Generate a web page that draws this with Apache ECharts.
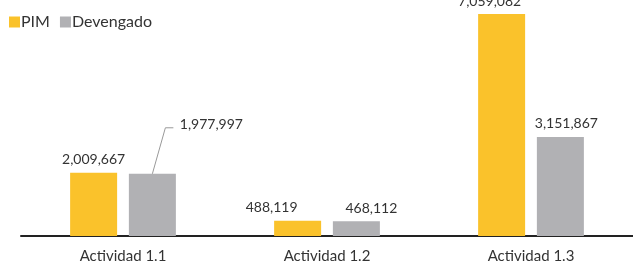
<!DOCTYPE html>
<html>
<head>
<meta charset="utf-8">
<script src="https://cdn.jsdelivr.net/npm/echarts@6/dist/echarts.min.js"></script>
<style>
  html, body { margin: 0; padding: 0; background: #fff; }
  #main { width: 633px; height: 267px; }
</style>
</head>
<body>
<div id="main"></div>
<script>
var categories = ["Actividad 1.1", "Actividad 1.2", "Actividad 1.3"];
var pim = [2009667, 488119, 7059082];
var devengado = [1977997, 468112, 3151867];

var font = "Lato";
var fmt = function (p) { return p.value.toLocaleString("en-US"); };

// label nudges, as in the original layout
var pimShift = [0, -26, -12];
var devShift = [[59, -36], [15, 0], [6, 0]];

var barW = 47, gapRatio = 0.25;

var myChart = echarts.init(document.getElementById("main"));
myChart.setOption({
  animation: false,
  textStyle: { fontFamily: font },
  legend: {
    left: 4,
    top: 9,
    itemWidth: 11,
    itemHeight: 11,
    itemGap: 10,
    icon: "rect",
    textStyle: { fontFamily: font, fontSize: 16, color: "#333", padding: [0, 0, 0, -4] },
    data: ["PIM", "Devengado"]
  },
  grid: { left: 21, right: 0, top: 14, bottom: 31 },
  xAxis: {
    type: "category",
    data: categories,
    axisLine: { lineStyle: { color: "#222", width: 2 } },
    axisTick: { show: false },
    axisLabel: { color: "#333", fontSize: 15, margin: 13, fontFamily: font }
  },
  yAxis: {
    type: "value",
    min: 0,
    max: 7059082,
    show: false,
    splitLine: { show: false }
  },
  series: [
    {
      name: "PIM",
      type: "bar",
      data: pim,
      barWidth: barW,
      barGap: gapRatio * 100 + "%",
      itemStyle: { color: "#FAC22B" },
      label: { show: true, position: "top", distance: 6, color: "#333", fontSize: 14, fontFamily: font, formatter: fmt },
      labelLayout: function (params) {
        return { dx: pimShift[params.dataIndex] };
      }
    },
    {
      name: "Devengado",
      type: "bar",
      data: devengado,
      barWidth: barW,
      itemStyle: { color: "#B1B1B4" },
      label: { show: true, position: "top", distance: 6, color: "#333", fontSize: 14, fontFamily: font, formatter: fmt },
      labelLayout: function (params) {
        var s = devShift[params.dataIndex];
        return { dx: s[0], dy: s[1] };
      },
      labelLine: { show: false }
    },
    {
      // leader line for the moved Devengado label of Actividad 1.1
      type: "custom",
      silent: true,
      z: 5,
      data: [[0, devengado[0]]],
      renderItem: function (params, api) {
        var p = api.coord([api.value(0), api.value(1)]);
        var cx = p[0] + (barW + barW * gapRatio) / 2;
        var y = p[1];
        return {
          type: "polyline",
          shape: { points: [[cx, y], [cx + 13, y - 46], [cx + 21, y - 46]] },
          style: { stroke: "#999", lineWidth: 1, fill: null }
        };
      }
    }
  ]
});
</script>
</body>
</html>
